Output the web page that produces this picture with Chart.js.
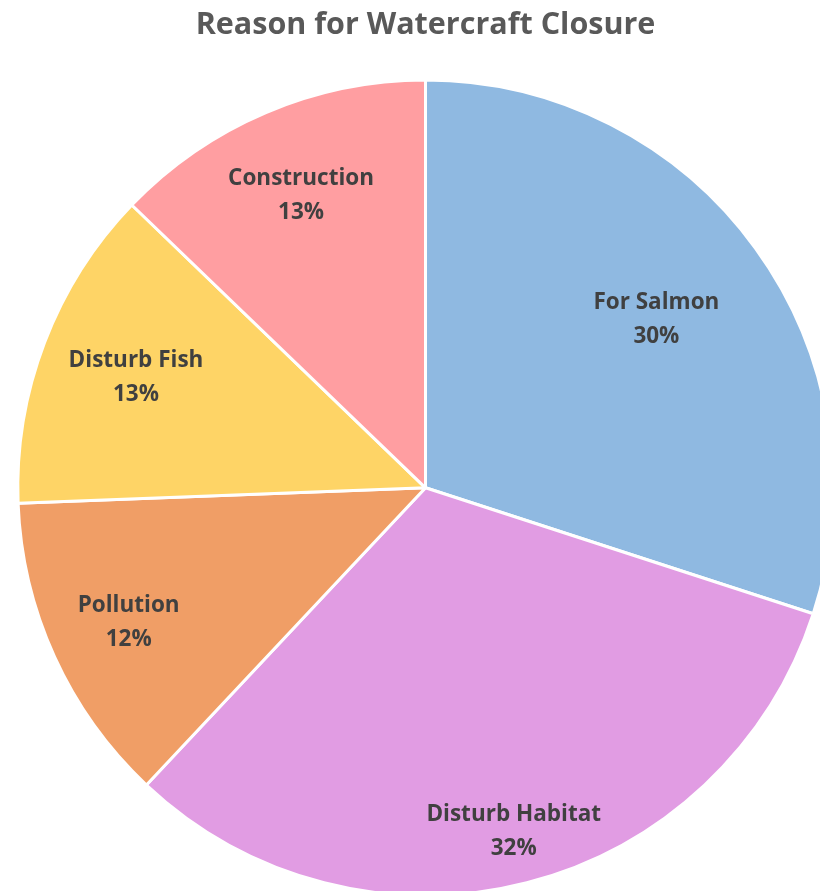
<!DOCTYPE html>
<html>
<head>
<meta charset="utf-8">
<script src="https://cdn.jsdelivr.net/npm/chart.js@4/dist/chart.umd.min.js"></script>
<style>
  html, body { margin: 0; padding: 0; background: #ffffff; overflow: hidden; }
  #wrap { position: absolute; left: -1px; top: 0; width: 853px; height: 897px; }
</style>
</head>
<body>
<div id="wrap"><canvas id="c"></canvas></div>
<script>
const chartTitle = 'Reason for Watercraft Closure';
const categories = ['For Salmon', 'Disturb Habitat', 'Pollution', 'Disturb Fish', 'Construction'];
const values = [30, 32, 12.4, 12.8, 12.8];
const colors = ['#8FB9E1', '#E19CE3', '#F09E66', '#FED466', '#FF9EA1'];

const total = values.reduce((a, b) => a + b, 0);

const sliceLabels = {
  id: 'sliceLabels',
  afterDatasetsDraw(chart, args, opts) {
    const ctx = chart.ctx;
    const meta = chart.getDatasetMeta(0);
    meta.data.forEach((arc, i) => {
      const p = arc.getProps(['x', 'y', 'startAngle', 'endAngle', 'outerRadius'], true);
      const mid = (p.startAngle + p.endAngle) / 2;
      const r = p.outerRadius * opts.radial[i];
      const lx = p.x + Math.cos(mid) * r;
      const ly = p.y + Math.sin(mid) * r;
      const pct = Math.round(values[i] / total * 100) + '%';
      ctx.save();
      ctx.font = opts.font;
      ctx.fillStyle = opts.color;
      ctx.textAlign = 'center';
      ctx.textBaseline = 'middle';
      ctx.fillText(categories[i], lx, ly - opts.lineGap / 2);
      ctx.fillText(pct, lx, ly + opts.lineGap / 2);
      ctx.restore();
    });
  }
};

new Chart(document.getElementById('c'), {
  type: 'pie',
  data: {
    labels: categories,
    datasets: [{
      data: values,
      backgroundColor: colors,
      borderColor: '#ffffff',
      borderWidth: 3
    }]
  },
  options: {
    responsive: true,
    maintainAspectRatio: false,
    animation: false,
    layout: { padding: 0 },
    plugins: {
      legend: { display: false },
      tooltip: { enabled: false },
      title: {
        display: true,
        text: chartTitle,
        color: '#595959',
        font: { family: "'Open Sans'", size: 30.5, weight: 'bold' },
        padding: { top: 7, bottom: 35 }
      },
      sliceLabels: {
        radial: [0.70, 0.87, 0.80, 0.76, 0.78],
        font: "bold 22.5px 'Open Sans'",
        color: '#404040',
        lineGap: 34
      }
    }
  },
  plugins: [sliceLabels]
});
</script>
</body>
</html>
